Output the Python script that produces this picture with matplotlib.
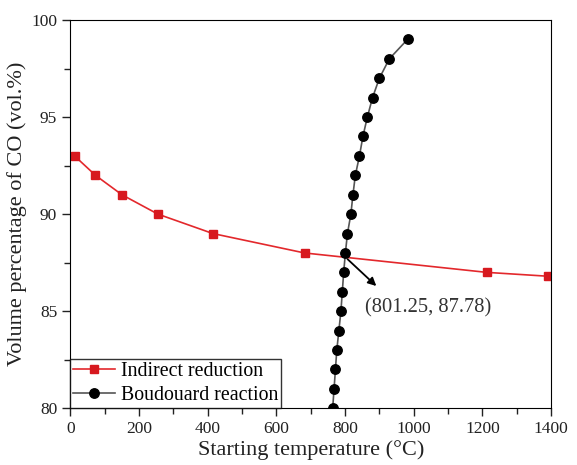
import numpy as np
import matplotlib.pyplot as plt
from matplotlib.ticker import MultipleLocator

plt.rcParams['font.family'] = ['Liberation Serif', 'DejaVu Serif']

# Indirect reduction
t_ind = [12, 73, 150, 255, 415, 682, 1213, 1392]
co_ind = [93, 92, 91, 90, 89, 88, 87, 86.8]

# Boudouard reaction
t_bou = [764, 768, 772, 776, 782, 788, 792, 796, 801, 807, 817,
         823, 830, 842, 852, 865, 880, 900, 929, 982]
co_bou = [80, 81, 82, 83, 84, 85, 86, 87, 88, 89, 90,
          91, 92, 93, 94, 95, 96, 97, 98, 99]

cross = (801.25, 87.78)

fig, ax = plt.subplots(figsize=(5.77, 4.65), dpi=100)
fig.subplots_adjust(left=0.122, right=0.955, top=0.957, bottom=0.122)

ax.plot(t_ind, co_ind, '-s', color='#e3282c', markerfacecolor='#d7191f',
        markeredgecolor='#d7191f', markersize=6.2, linewidth=1.2,
        label='Indirect reduction')
ax.plot(t_bou, co_bou, '-o', color='#555555', markerfacecolor='black',
        markeredgecolor='black', markersize=6.8, linewidth=1.2,
        label='Boudouard reaction')

ax.annotate('', xy=(897, 86.2), xytext=cross,
            arrowprops=dict(arrowstyle='-|>', color='black', lw=1.3,
                            mutation_scale=12))
ax.text(858, 85.15, '(801.25, 87.78)', fontsize=14.8, color='#333333',
        va='center', ha='left')

ax.set_xlim(0, 1400)
ax.set_ylim(80, 100)
ax.xaxis.set_major_locator(MultipleLocator(200))
ax.xaxis.set_minor_locator(MultipleLocator(100))
ax.yaxis.set_major_locator(MultipleLocator(5))
ax.yaxis.set_minor_locator(MultipleLocator(2.5))
ax.tick_params(which='both', direction='out', labelsize=12.5, colors='#222222')
ax.tick_params(which='major', length=6, width=1)
ax.tick_params(which='minor', length=4, width=1)

ax.set_xlabel('Starting temperature (°C)', fontsize=16, labelpad=2,
              color='#222222')
ax.set_ylabel('Volume percentage of CO (vol.%)', fontsize=16, labelpad=3,
              color='#222222')

leg = ax.legend(loc='lower left', fontsize=14.3, fancybox=False,
                edgecolor='black', borderaxespad=0, handlelength=2.1,
                handletextpad=0.3, borderpad=0.15, labelspacing=0.25)
leg.get_frame().set_linewidth(1)

plt.savefig('out.png', dpi=100)
